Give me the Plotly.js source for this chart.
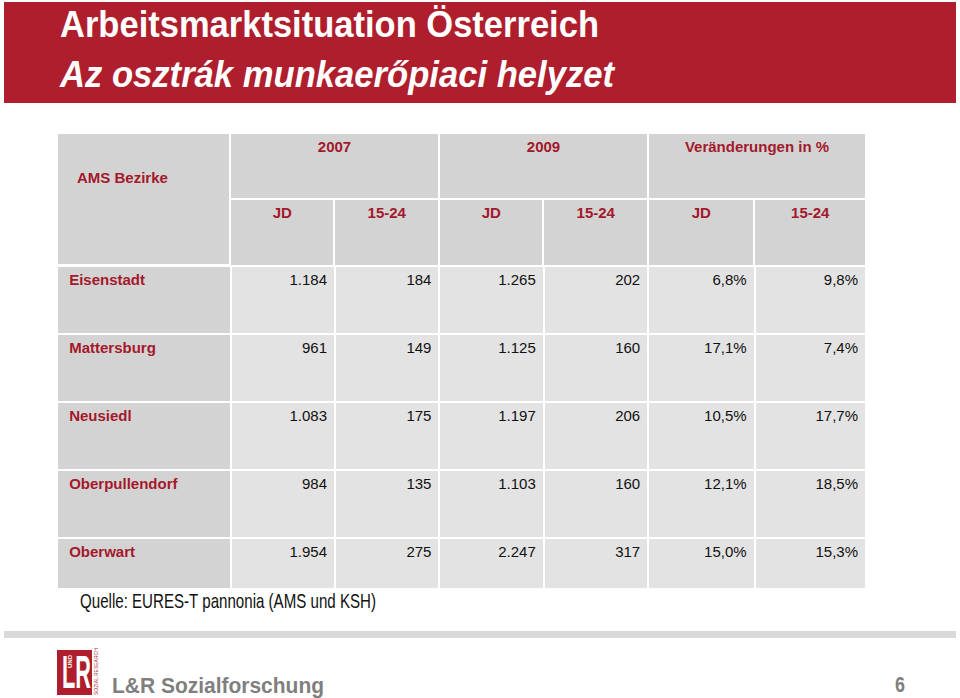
<!DOCTYPE html>
<html>
<head>
<meta charset="utf-8">
<script src="https://cdn.plot.ly/plotly-3.0.1.min.js"></script>
<style>html,body{margin:0;padding:0;background:#fff;}#chart{width:960px;height:698px;}</style>
</head>
<body>
<div id="chart"></div>
<script>
// ---- data ----
const titleLine1 = "Arbeitsmarktsituation Österreich";
const titleLine2 = "Az osztrák munkaerőpiaci helyzet";
const stubHeader = "AMS Bezirke";
const yearGroups = ["2007", "2009", "Veränderungen in %"];
const subHeaders = ["JD", "15-24", "JD", "15-24", "JD", "15-24"];
const districts = ["Eisenstadt", "Mattersburg", "Neusiedl", "Oberpullendorf", "Oberwart"];
const jd2007 = [1184, 961, 1083, 984, 1954];
const youth2007 = [184, 149, 175, 135, 275];
const jd2009 = [1265, 1125, 1197, 1103, 2247];
const youth2009 = [202, 160, 206, 160, 317];
const changeJD = [6.8, 17.1, 10.5, 12.1, 15.0];
const changeYouth = [9.8, 7.4, 17.7, 18.5, 15.3];
const sourceNote = "Quelle: EURES-T pannonia (AMS und KSH)";
const footerName = "L&R Sozialforschung";
const pageNumber = "6";

// ---- formatting ----
function fmtInt(n) {
  const s = String(Math.round(n));
  return s.replace(/\B(?=(\d{3})+(?!\d))/g, ".");
}
function fmtPct(n) { return n.toFixed(1).replace(".", ",") + "%"; }

// ---- layout constants ----
const W = 960, H = 698;
const RED = "#AF1E2D", TXTRED = "#A3192B";
const HDR_FILL = "#D3D3D3", CELL_FILL = "#E3E3E3";
const FONT = "Liberation Sans, Arial, sans-serif";
const colW = [173, 104, 104, 104, 104, 106, 111];
const tableLeft = 57, tableRight = 866, stubRight = 230;
const NB = "\u00A0";

function px(x) { return x / W; }
function py(y) { return 1 - y / H; }
function dom(x0, x1, y0, y1) { return {x: [px(x0), px(x1)], y: [py(y1), py(y0)]}; }

const line = {color: "white", width: 2};
function rowValues(i) {
  return [
    NB + districts[i],
    fmtInt(jd2007[i]), fmtInt(youth2007[i]), fmtInt(jd2009[i]), fmtInt(youth2009[i]),
    fmtPct(changeJD[i]), fmtPct(changeYouth[i])
  ];
}
const colFills = colW.map((w, j) => j === 0 ? HDR_FILL : CELL_FILL);
const bodyFont = {
  family: FONT, size: 15,
  color: colW.map((w, j) => j === 0 ? TXTRED : "#111111"),
  weight: colW.map((w, j) => j === 0 ? "bold" : "normal")
};
const hdrFont = {family: FONT, size: 15, color: TXTRED, weight: "bold"};
const colAlign = colW.map((w, j) => j === 0 ? "left" : "right");

const nRows = districts.length;
const traces = [];

// stub header cell (spans both header rows)
traces.push({
  type: "table", domain: dom(tableLeft, stubRight + 1, 133, 266),
  columnwidth: [1],
  header: {values: [[""]], height: 132, fill: {color: HDR_FILL}, line: line, font: hdrFont},
  cells: {values: []}
});
// year group header
traces.push({
  type: "table", domain: dom(stubRight, tableRight, 133, 200),
  columnwidth: [colW[1] + colW[2], colW[3] + colW[4], colW[5] + colW[6]],
  header: {values: yearGroups.map(g => [g]), height: 66,
    fill: {color: HDR_FILL}, line: line, align: "center", font: hdrFont},
  cells: {values: []}
});
// sub header
traces.push({
  type: "table", domain: dom(stubRight, tableRight, 199, 267),
  columnwidth: colW.slice(1),
  header: {values: subHeaders.map(s => [s]), height: 67,
    fill: {color: HDR_FILL}, line: line, align: "center", font: hdrFont},
  cells: {values: []}
});
// body rows 1..4
const first = rowValues(0);
const mids = [1, 2, 3].map(rowValues);
traces.push({
  type: "table", domain: dom(tableLeft, tableRight, 266, 539),
  columnwidth: colW,
  header: {values: first.map(v => [v]), height: 68,
    fill: {color: colFills}, line: line, align: colAlign, font: bodyFont},
  cells: {values: first.map((v, j) => mids.map(r => r[j])), height: 68,
    fill: {color: colFills}, line: line, align: colAlign, font: bodyFont}
});
// last row (shorter)
const last = rowValues(nRows - 1);
traces.push({
  type: "table", domain: dom(tableLeft, tableRight, 538, 590),
  columnwidth: colW,
  header: {values: last.map(v => [v]), height: 51,
    fill: {color: colFills}, line: line, align: colAlign, font: bodyFont},
  cells: {values: []}
});

// annotation list; condenseTo = target width in px for narrow typefaces
const notes = [
  {x: 58, y: 24, text: titleLine1, size: 37, color: "white", weight: "bold", condenseTo: 539},
  {x: 58, y: 74, text: titleLine2, size: 37, color: "white", weight: "bold", style: "italic", condenseTo: 554},
  {x: 75, y: 177, text: stubHeader, size: 15, color: TXTRED, weight: "bold"},
  {x: 78, y: 600, text: sourceNote, size: 21, color: "#111111", condenseTo: 296},
  {x: 60, y: 672, text: "LR", size: 46, color: "white", weight: "bold", condenseTo: 29},
  {x: 70, y: 661, text: "UND", size: 6, color: "white", weight: "bold", angle: -90},
  {x: 96, y: 672, text: "SOZIAL RESEARCH", size: 5, color: RED, angle: -90},
  {x: 110, y: 685, text: footerName, size: 22, color: "#7F7F7F", weight: "bold", condenseTo: 212},
  {x: 893, y: 684, text: pageNumber, size: 22, color: "#7F7F7F", weight: "bold", condenseTo: 10}
];

const layout = {
  width: W, height: H,
  margin: {l: 0, r: 0, t: 0, b: 0},
  paper_bgcolor: "white",
  showlegend: false,
  shapes: [
    {type: "rect", xref: "paper", yref: "paper", x0: px(4), x1: px(956), y0: py(103), y1: py(2),
      fillcolor: RED, line: {width: 0}, layer: "below"},
    {type: "rect", xref: "paper", yref: "paper", x0: px(4), x1: px(956), y0: py(638), y1: py(631),
      fillcolor: "#D9D9D9", line: {width: 0}, layer: "below"},
    {type: "rect", xref: "paper", yref: "paper", x0: px(57), x1: px(92), y0: py(695), y1: py(650),
      fillcolor: RED, line: {width: 0}, layer: "below"}
  ],
  annotations: notes.map(n => (n.angle ? {
    xref: "paper", yref: "paper", x: px(n.x), y: py(n.y), xanchor: "center", yanchor: "middle",
    text: n.text, showarrow: false, textangle: n.angle,
    font: {family: FONT, size: n.size, color: n.color, weight: n.weight || "normal"}
  } : {
    xref: "paper", yref: "paper", x: px(n.x), y: py(n.y), xanchor: "left", yanchor: "middle",
    text: n.text, showarrow: false,
    font: {family: FONT, size: n.size, color: n.color, weight: n.weight || "normal",
      style: n.style || "normal"}
  }))
};

Plotly.newPlot("chart", traces, layout, {displayModeBar: false, staticPlot: true}).then(gd => {
  const texts = gd.querySelectorAll("g.annotation text.annotation-text");
  notes.forEach((n, i) => {
    const el = texts[i];
    if (!el || !n.condenseTo) return;
    const bb = el.getBBox();
    el.setAttribute("text-anchor", "start");
    el.setAttribute("x", bb.x);
    el.setAttribute("textLength", n.condenseTo);
    el.setAttribute("lengthAdjust", "spacingAndGlyphs");
  });
});
</script>
</body>
</html>
